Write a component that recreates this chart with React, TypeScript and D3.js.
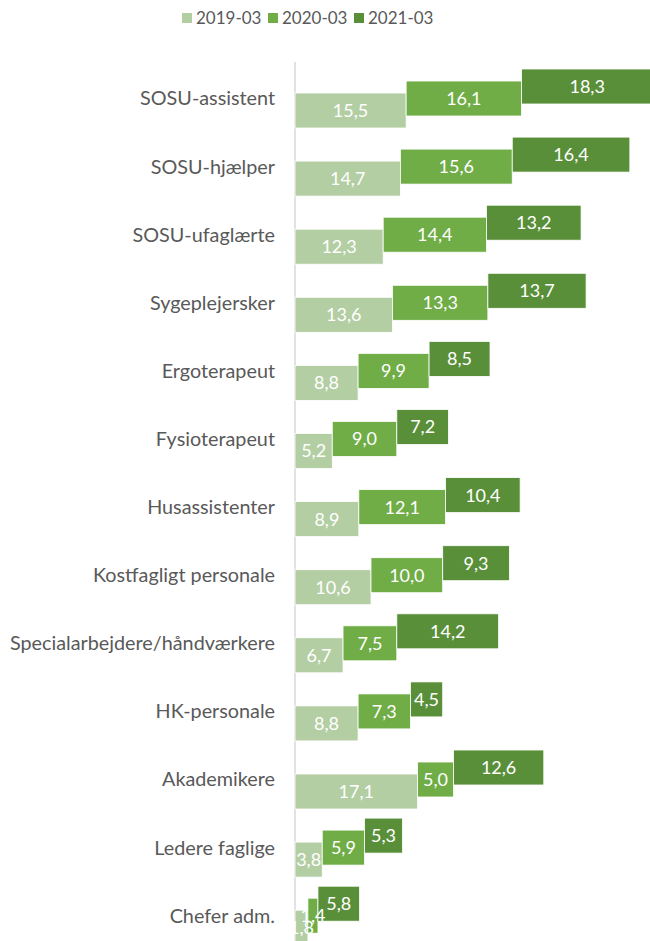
import React from "react";
import {scaleBand, scaleLinear, scalePoint} from "d3";

// occupations, top to bottom
const categories = [
    "SOSU-assistent",
    "SOSU-hjælper",
    "SOSU-ufaglærte",
    "Sygeplejersker",
    "Ergoterapeut",
    "Fysioterapeut",
    "Husassistenter",
    "Kostfagligt personale",
    "Specialarbejdere/håndværkere",
    "HK-personale",
    "Akademikere",
    "Ledere faglige",
    "Chefer adm.",
];

const seriesNames = ["2019-03", "2020-03", "2021-03"];

const values2019 = [15.5, 14.7, 12.3, 13.6, 8.8, 5.2, 8.9, 10.6, 6.7, 8.8, 17.1, 3.8, 1.8];
const values2020 = [16.1, 15.6, 14.4, 13.3, 9.9, 9.0, 12.1, 10.0, 7.5, 7.3, 5.0, 5.9, 1.4];
const values2021 = [18.3, 16.4, 13.2, 13.7, 8.5, 7.2, 10.4, 9.3, 14.2, 4.5, 12.6, 5.3, 5.8];

const colors = ["#b4cea4", "#70ad47", "#5a8f3a"];

const W = 650;
const H = 941;

export default function App() {
    const series = [values2019, values2020, values2021];

    const x = scaleLinear().domain([0, 50]).range([295, 653.5]);
    const y = scaleBand().domain(categories).range([69, 69 + 13 * 68.1]);
    // each series sits a little higher than the previous one
    const offset = scalePoint().domain(["2021-03", "2020-03", "2019-03"]).range([0, 24]);
    const barH = 35;

    const font = "Lato, 'Open Sans', sans-serif";

    const bars = [];
    categories.forEach((cat, i) => {
        let start = 0;
        seriesNames.forEach((name, s) => {
            const v = series[s][i];
            const x0 = x(start);
            const x1 = x(start + v);
            const top = y(cat) + offset(name);
            bars.push({key: cat + name, x0, x1, top, v, color: colors[s]});
            start += v;
        });
    });

    return (
        <svg width={W} height={H} style={{position: "absolute", left: 0, top: 0, background: "#fff"}}
             fontFamily={font}>
            {/* legend */}
            {seriesNames.map((name, s) => {
                const lx = 182 + s * 86;
                return (
                    <g key={name}>
                        <rect x={lx} y={13} width={10} height={10} fill={colors[s]}/>
                        <text x={lx + 14} y={18} dy="0.35em" fontSize={17} fill="#595959">{name}</text>
                    </g>
                );
            })}

            {/* axis line */}
            <line x1={x(0)} x2={x(0)} y1={62} y2={H} stroke="#d9d9d9" strokeWidth={1.5}/>

            {bars.map(b => (
                <rect key={b.key} x={b.x0} y={b.top} width={b.x1 - b.x0} height={barH}
                      fill={b.color} stroke="#fff" strokeWidth={0.8}/>
            ))}

            {bars.map(b => (
                <text key={"t" + b.key} x={(b.x0 + b.x1) / 2} y={b.top + barH / 2} dy="0.36em"
                      textAnchor="middle" fill="#fff" fontSize={18}>
                    {b.v.toFixed(1).replace(".", ",")}
                </text>
            ))}

            {categories.map(cat => (
                <text key={cat} x={275} y={y(cat) + 29.5} dy="0.35em" textAnchor="end"
                      fill="#595959" fontSize={19.8}>{cat}</text>
            ))}
        </svg>
    );
}
